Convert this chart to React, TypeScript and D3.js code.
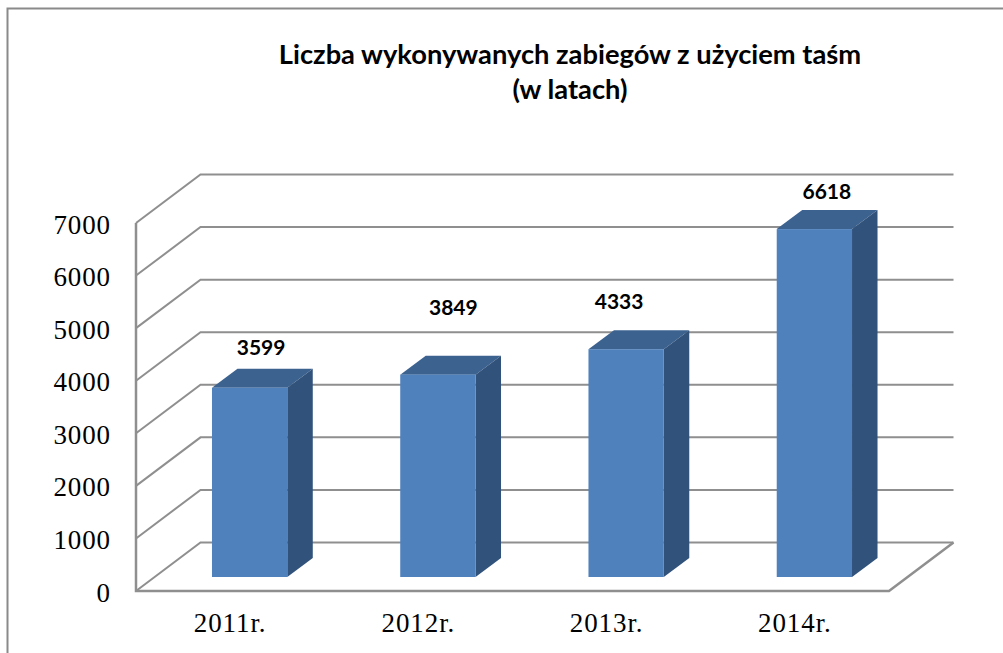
import React, { useEffect, useRef } from 'react';
import * as d3 from 'd3';

const categories = ['2011r.', '2012r.', '2013r.', '2014r.'];
const values = [3599, 3849, 4333, 6618];
const yTicks = [0, 1000, 2000, 3000, 4000, 5000, 6000, 7000];
const titleLines = ['Liczba wykonywanych zabiegów z użyciem taśm', '(w latach)'];
// the labels were moved by hand in the original, so each has its own nudge
const labelNudgeX = [11.5, 15.5, -7, 12.5];
const labelNudgeY = [-40, -67, -47.5, -37.5];

const App = () => {
  const svgRef = useRef<SVGSVGElement>(null);

  useEffect(() => {
    const svg = d3.select(svgRef.current);
    svg.selectAll('*').remove();

    const width = 1003;
    const height = 653;
    const grey = '#8f8f8f';

    // front plane of the box
    const left = 136;
    const right = 889;
    const bottom = 591;
    const top = 223;
    // how far the back wall sits from the front plane
    const depthX = 64.5;
    const depthY = -48.5;
    // bar depth and where it stands on the floor
    const barDepthX = 25.5;
    const barDepthY = -19;
    const barShiftX = 19.5;
    const barShiftY = -14;

    const xScale = d3.scaleBand()
      .domain(categories)
      .range([left, right])
      .paddingInner(0.6)
      .paddingOuter(0.3);

    const yScale = d3.scaleLinear()
      .domain([0, 7000])
      .range([bottom, top]);

    // Frame
    svg.append('path')
      .attr('d', `M7.5,${height} V8.5 H${width}`)
      .attr('fill', 'none')
      .attr('stroke', '#8a8a8a')
      .attr('stroke-width', 2);

    // Title
    svg.append('g').selectAll('text')
      .data(titleLines)
      .enter().append('text')
      .text(d => d)
      .attr('x', 570)
      .attr('y', (d, i) => 64 + i * 35)
      .attr('text-anchor', 'middle')
      .attr('font-family', 'Lato')
      .attr('font-weight', 700)
      .attr('font-size', 27.3)
      .attr('fill', '#000');

    // Grid lines: side wall then back wall
    const line = d3.line();
    svg.append('g').selectAll('path')
      .data(yTicks)
      .enter().append('path')
      .attr('d', d => line([
        [left, yScale(d)],
        [left + depthX, yScale(d) + depthY],
        [right + depthX, yScale(d) + depthY],
      ]))
      .attr('fill', 'none')
      .attr('stroke', grey)
      .attr('stroke-width', 2);

    // Floor front edge and the vertical axis
    svg.append('path')
      .attr('d', line([
        [left, yScale(7000)],
        [left, bottom],
        [right, bottom],
        [right + depthX, bottom + depthY],
      ]))
      .attr('fill', 'none')
      .attr('stroke', grey)
      .attr('stroke-width', 2.5);

    // Bars
    const bars = svg.append('g').selectAll('g')
      .data(values)
      .enter().append('g');
    const barX = (i: number) => xScale(categories[i]) + barShiftX;
    const barY = (d: number) => yScale(d) + barShiftY;
    const barW = xScale.bandwidth();
    const floorY = yScale(0) + barShiftY;

    bars.append('path')
      .attr('d', (d, i) => line([
        [barX(i), barY(d)],
        [barX(i) + barDepthX, barY(d) + barDepthY],
        [barX(i) + barW + barDepthX, barY(d) + barDepthY],
        [barX(i) + barW, barY(d)],
      ]) + 'Z')
      .attr('fill', '#3c6290');

    bars.append('path')
      .attr('d', (d, i) => line([
        [barX(i) + barW, barY(d)],
        [barX(i) + barW + barDepthX, barY(d) + barDepthY],
        [barX(i) + barW + barDepthX, floorY + barDepthY],
        [barX(i) + barW, floorY],
      ]) + 'Z')
      .attr('fill', '#31527b');

    bars.append('rect')
      .attr('x', (d, i) => barX(i))
      .attr('y', d => barY(d))
      .attr('width', barW)
      .attr('height', d => floorY - barY(d))
      .attr('fill', '#4f81bd');

    // Value labels
    bars.append('text')
      .text(d => d)
      .attr('x', (d, i) => barX(i) + barW / 2 + labelNudgeX[i])
      .attr('y', (d, i) => barY(d) + labelNudgeY[i])
      .attr('dy', '0.35em')
      .attr('text-anchor', 'middle')
      .attr('font-family', 'Lato')
      .attr('font-weight', 700)
      .attr('font-size', 21)
      .attr('fill', '#000');

    // Axes, only their labels show
    const yAxis = svg.append('g')
      .attr('transform', `translate(${left - 25},1.5)`)
      .call(d3.axisLeft(yScale).tickValues(yTicks).tickFormat(d3.format('d')).tickSize(0).tickPadding(0));
    const xAxis = svg.append('g')
      .attr('transform', `translate(0,${bottom + 22})`)
      .call(d3.axisBottom(xScale).tickSize(0).tickPadding(0));

    [yAxis, xAxis].forEach(axis => {
      axis.select('.domain').remove();
      axis.selectAll('text')
        .attr('font-family', '"Liberation Serif"')
        .attr('font-size', 27)
        .attr('letter-spacing', 0.9)
        .attr('fill', '#000');
    });
  }, []);

  return (
    <svg
      ref={svgRef}
      width="1003"
      height="653"
      style={{ position: 'absolute', left: 0, top: 0, background: '#fff' }}
    ></svg>
  );
};

export default App;
